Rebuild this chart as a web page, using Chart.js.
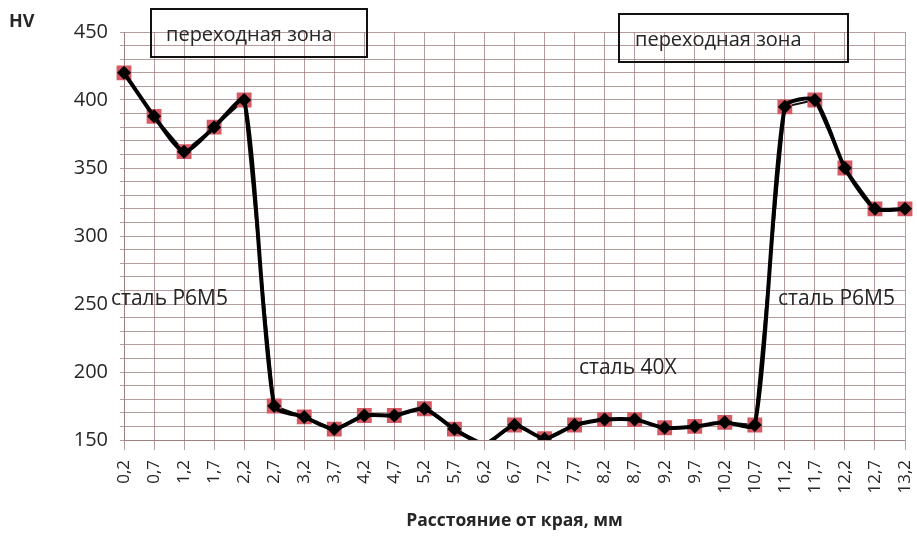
<!DOCTYPE html>
<html>
<head>
<meta charset="utf-8">
<script src="https://cdn.jsdelivr.net/npm/chart.js@4/dist/chart.umd.min.js"></script>
<style>
  html, body { margin: 0; padding: 0; background: #fff; }
  #wrap { width: 917px; height: 540px; position: relative; }
</style>
</head>
<body>
<div id="wrap"><canvas id="hvChart"></canvas></div>
<script>
// distance from edge, mm
const distances = ["0,2", "0,7", "1,2", "1,7", "2,2", "2,7", "3,2", "3,7", "4,2", "4,7",
  "5,2", "5,7", "6,2", "6,7", "7,2", "7,7", "8,2", "8,7", "9,2", "9,7",
  "10,2", "10,7", "11,2", "11,7", "12,2", "12,7", "13,2"];
// hardness HV
const hardness = [420, 388, 362, 380, 400, 175, 167, 158, 168, 168,
  173, 158, 147, 161, 151, 161, 165, 165, 159, 160,
  163, 161, 395, 400, 350, 320, 320];
const yMin = 150;
const yMax = 450;
const yLabelStep = 50;

const font = "'Open Sans', 'Noto Sans', sans-serif";
const ink = "#262626";
const gridColor = "rgba(150,115,115,0.7)";

// text notes and boxes drawn on top of the chart
const notes = {
  id: "notes",
  afterDraw(chart) {
    const ctx = chart.ctx;
    ctx.save();
    ctx.fillStyle = ink;
    ctx.textBaseline = "middle";
    ctx.font = "bold 18px " + font;
    ctx.fillText("HV", 9, 22);

    ctx.strokeStyle = "#111";
    ctx.lineWidth = 2;
    ctx.strokeRect(151, 9, 216, 48);
    ctx.strokeRect(619, 14, 229, 48);
    ctx.font = "20px " + font;
    ctx.fillText("переходная зона", 166, 35);
    ctx.fillText("переходная зона", 635, 40);

    ctx.font = "21px " + font;
    ctx.fillText("сталь Р6М5", 111, 299);
    ctx.fillText("сталь Р6М5", 778, 299);
    ctx.fillText("сталь 40Х", 579, 368);
    ctx.restore();
  }
};

new Chart(document.getElementById("hvChart"), {
  type: "line",
  data: {
    labels: distances,
    datasets: [
      {
        label: "straight",
        data: hardness,
        borderColor: "#111",
        borderWidth: 2,
        tension: 0,
        pointStyle: "rect",
        pointRadius: (c) => (c.raw < yMin ? 0 : 10.5),
        pointBackgroundColor: "#d65a63",
        pointBorderColor: "#d65a63",
        pointBorderWidth: 0,
        order: 2
      },
      {
        label: "smooth",
        data: hardness,
        borderColor: "#000",
        borderWidth: 4,
        tension: 0.22,
        pointStyle: "rectRot",
        pointRadius: (c) => (c.raw < yMin ? 0 : 7),
        pointBackgroundColor: "#000",
        pointBorderColor: "#000",
        pointBorderWidth: 0,
        order: 1
      }
    ]
  },
  options: {
    responsive: true,
    maintainAspectRatio: false,
    animation: false,
    layout: { padding: { top: 32, right: 0, left: 0, bottom: 8 } },
    plugins: {
      legend: { display: false },
      tooltip: { enabled: false }
    },
    scales: {
      x: {
        offset: false,
        grid: { color: gridColor, lineWidth: 1, offset: false, tickLength: 10 },
        border: { color: gridColor },
        ticks: {
          autoSkip: false,
          minRotation: 90,
          maxRotation: 90,
          padding: 10,
          color: ink,
          font: { family: font, size: 17 }
        },
        title: {
          display: true,
          text: "Расстояние от края, мм",
          color: ink,
          padding: { top: 4, bottom: 0 },
          font: { family: font, size: 17.5, weight: "bold" }
        },
        afterFit(axis) {
          axis.height = 92;
          axis.paddingLeft = 0;
          axis.paddingRight = 12;
        }
      },
      y: {
        min: yMin,
        max: yMax,
        grid: { color: gridColor, lineWidth: 1, tickLength: 4 },
        border: { color: gridColor },
        ticks: {
          stepSize: 10,
          autoSkip: false,
          padding: 12,
          color: ink,
          font: { family: font, size: 20 },
          callback: (v) => (v % yLabelStep === 0 ? v : "")
        },
        afterFit(axis) {
          axis.width = 124;
          axis.paddingTop = 0;
          axis.paddingBottom = 0;
        }
      }
    }
  },
  plugins: [notes]
});
</script>
</body>
</html>
